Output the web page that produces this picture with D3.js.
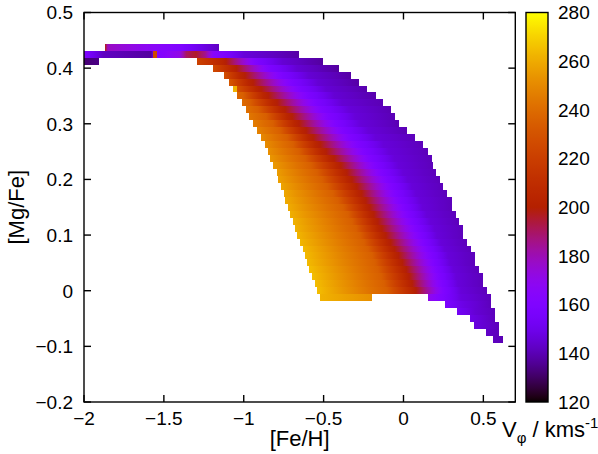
<!DOCTYPE html>
<html><head><meta charset="utf-8">
<script src="https://cdn.jsdelivr.net/npm/d3@7"></script>
<style>
html,body{margin:0;padding:0;background:#fff;}
text{font-family:"Liberation Sans",Arial,Helvetica,sans-serif;fill:#000;}
</style></head>
<body><svg id="c" width="598" height="454"></svg>
<script>
// ---------------- data ----------------
const xTicks = [-2, -1.5, -1, -0.5, 0, 0.5];
const yTicks = [-0.2, -0.1, 0, 0.1, 0.2, 0.3, 0.4, 0.5];
const cbTicks = [120, 140, 160, 180, 200, 220, 240, 260, 280];
const rowHalfHeight = 0.00625;   // half of the [Mg/Fe] bin
const cellHalfWidth = 0.0125;    // half of the [Fe/H] bin

// each row segment: [Mg/Fe] centre and list of [ [Fe/H], Vphi ] samples along the row
const segMgFe = [
  0.4375, 0.425, 0.4125, 0.4125, 0.4, 0.3875, 0.375, 0.3625, 0.35, 0.3375, 0.325,
  0.3125, 0.3, 0.2875, 0.275, 0.2625, 0.25, 0.2375, 0.225, 0.2125, 0.2, 0.1875,
  0.175, 0.1625, 0.15, 0.1375, 0.125, 0.1125, 0.1, 0.0875, 0.075, 0.0625, 0.05,
  0.0375, 0.025, 0.0125, 0, -0.0125, -0.0125, -0.025, -0.0375, -0.05, -0.0625, -0.075, -0.0875
];
const segStops = [
  [[-1.869,200],[-1.850,178],[-1.606,168],[-1.399,160],[-1.28,150],[-1.155,142]],
  [[-2.0,160],[-1.88,142],[-1.58,137],[-1.55,160],[-1.40,172],[-1.36,190],[-1.30,196],[-1.24,185],[-1.19,165],[-1.10,156],[-1.00,146],[-0.652,138]],
  [[-2.0,132],[-1.906,134]],
  [[-1.294,222],[-1.136,205],[-0.929,160],[-0.758,145],[-0.502,137]],
  [[-1.194,226],[-1.073,205],[-0.848,160],[-0.669,145],[-0.401,137]],
  [[-1.121,228],[-1.023,205],[-0.773,160],[-0.595,145],[-0.328,138]],
  [[-1.090,232],[-0.973,205],[-0.710,160],[-0.536,145],[-0.276,138]],
  [[-1.069,235],[-0.923,205],[-0.660,160],[-0.486,145],[-0.226,139]],
  [[-1.040,238],[-1.004,235],[-0.879,205],[-0.610,160],[-0.435,145],[-0.173,139]],
  [[-1.013,240],[-0.961,235],[-0.823,205],[-0.560,160],[-0.386,145],[-0.126,140]],
  [[-0.987,242],[-0.910,235],[-0.773,205],[-0.516,160],[-0.341,146],[-0.078,140]],
  [[-0.965,244],[-0.860,235],[-0.729,205],[-0.472,160],[-0.304,146],[-0.053,140]],
  [[-0.944,246],[-0.817,235],[-0.685,205],[-0.428,160],[-0.268,146],[-0.028,140]],
  [[-0.915,248],[-0.773,235],[-0.641,205],[-0.384,160],[-0.221,146],[0.024,140]],
  [[-0.892,250],[-0.729,235],[-0.597,205],[-0.340,160],[-0.175,146],[0.073,141]],
  [[-0.867,251],[-0.691,235],[-0.554,205],[-0.291,160],[-0.125,146],[0.125,141]],
  [[-0.846,252],[-0.654,235],[-0.516,205],[-0.253,160],[-0.091,146],[0.152,141]],
  [[-0.835,254],[-0.616,235],[-0.466,205],[-0.215,160],[-0.058,146],[0.177,141]],
  [[-0.815,255],[-0.579,235],[-0.422,205],[-0.178,160],[-0.033,146],[0.185,141]],
  [[-0.793,256],[-0.541,235],[-0.384,205],[-0.140,160],[-0.003,146],[0.202,141]],
  [[-0.783,257],[-0.510,235],[-0.353,205],[-0.109,160],[0.026,146],[0.229,141]],
  [[-0.766,258],[-0.478,235],[-0.322,205],[-0.078,160],[0.053,146],[0.250,141]],
  [[-0.748,259],[-0.441,235],[-0.291,205],[-0.053,160],[0.078,146],[0.275,141]],
  [[-0.741,260],[-0.410,235],[-0.265,205],[-0.028,160],[0.104,146],[0.302,141]],
  [[-0.721,260],[-0.378,235],[-0.240,205],[-0.003,160],[0.119,146],[0.302,141]],
  [[-0.710,261],[-0.347,235],[-0.215,205],[0.022,160],[0.144,146],[0.327,141]],
  [[-0.693,262],[-0.322,235],[-0.190,205],[0.048,160],[0.169,146],[0.350,141]],
  [[-0.679,262],[-0.297,235],[-0.165,205],[0.073,160],[0.194,146],[0.375,141]],
  [[-0.668,263],[-0.272,235],[-0.140,205],[0.098,160],[0.209,146],[0.375,141]],
  [[-0.647,263],[-0.247,235],[-0.109,205],[0.123,160],[0.234,146],[0.400,141]],
  [[-0.631,264],[-0.222,235],[-0.084,205],[0.148,160],[0.258,146],[0.423,141]],
  [[-0.616,264],[-0.197,235],[-0.059,205],[0.167,160],[0.279,146],[0.448,141]],
  [[-0.602,264],[-0.178,235],[-0.034,205],[0.185,160],[0.290,146],[0.448,141]],
  [[-0.589,265],[-0.159,235],[-0.009,205],[0.204,160],[0.312,146],[0.473,141]],
  [[-0.574,265],[-0.140,235],[0.010,205],[0.217,160],[0.329,146],[0.497,141]],
  [[-0.554,265],[-0.121,235],[0.029,205],[0.235,160],[0.340,146],[0.497,141]],
  [[-0.539,265],[-0.103,235],[0.054,205],[0.248,160],[0.359,146],[0.525,141]],
  [[-0.522,262],[-0.197,252]],
  [[0.156,170],[0.240,160],[0.360,147],[0.549,141]],
  [[0.260,158],[0.360,149],[0.549,141]],
  [[0.336,153],[0.450,145],[0.574,141]],
  [[0.414,149],[0.574,141]],
  [[0.439,147],[0.599,141]],
  [[0.514,143],[0.599,141]],
  [[0.561,142],[0.622,140]]
];
// isolated cells
const cellMgFe = [0.425, 0.3625];
const cellFeH  = [-1.555, -1.057];
const cellV    = [225, 262];

// ---------------- scales ----------------
const x = d3.scaleLinear().domain([-2, 0.7]).range([84, 515.3]);
const y = d3.scaleLinear().domain([-0.2, 0.5]).range([402, 12.5]);
const cb = d3.scaleLinear().domain([120, 280]).range([402, 12.5]);
const cbX0 = 526, cbX1 = 548;

// gnuplot default palette (rgbformulae 7,5,15)
function pal(v) {
  const t = Math.max(0, Math.min(1, (v - 120) / 160));
  const r = Math.sqrt(t), g = t * t * t, b = Math.max(0, Math.sin(2 * Math.PI * t));
  return d3.rgb(r * 255, g * 255, b * 255).formatHex();
}

const svg = d3.select("#c");
const defs = svg.append("defs");
defs.append("clipPath").attr("id", "plotclip").append("rect")
  .attr("x", x(-2)).attr("y", y(0.5)).attr("width", x(0.7) - x(-2)).attr("height", y(-0.2) - y(0.5));

const gHeat = svg.append("g").attr("clip-path", "url(#plotclip)").attr("shape-rendering", "crispEdges");

segStops.forEach((stops, i) => {
  const m = segMgFe[i];
  const x1 = Math.round(x(stops[0][0])), x2 = Math.round(x(stops[stops.length - 1][0]));
  const gid = "g" + i;
  const grad = defs.append("linearGradient").attr("id", gid)
    .attr("gradientUnits", "userSpaceOnUse")
    .attr("x1", x1).attr("x2", x2).attr("y1", 0).attr("y2", 0);
  for (let k = 0; k < stops.length; k++) {
    if (k < stops.length - 1) {
      const [fa, va] = stops[k], [fb, vb] = stops[k + 1];
      const n = 8;
      for (let s = 0; s < n; s++) {
        const f = fa + (fb - fa) * s / n, v = va + (vb - va) * s / n;
        const off = Math.max(0, Math.min(1, (x(f) - x1) / (x2 - x1)));
        grad.append("stop").attr("offset", off).attr("stop-color", pal(v));
      }
    } else {
      grad.append("stop").attr("offset", 1).attr("stop-color", pal(stops[k][1]));
    }
  }
  const yt = Math.round(y(m + rowHalfHeight)), yb = Math.round(y(m - rowHalfHeight));
  gHeat.append("rect")
    .attr("x", x1).attr("width", x2 - x1)
    .attr("y", yt).attr("height", yb - yt)
    .attr("fill", `url(#${gid})`);
});

cellMgFe.forEach((m, i) => {
  const yt = Math.round(y(m + rowHalfHeight)), yb = Math.round(y(m - rowHalfHeight));
  const xa = Math.round(x(cellFeH[i] - cellHalfWidth)), xb = Math.round(x(cellFeH[i] + cellHalfWidth));
  gHeat.append("rect")
    .attr("x", xa).attr("width", xb - xa)
    .attr("y", yt).attr("height", yb - yt)
    .attr("fill", pal(cellV[i]));
});

// ---------------- frame & ticks ----------------
const TL = 7;
const gAx = svg.append("g").attr("stroke", "#000").attr("stroke-width", 1.4).attr("fill", "none");
gAx.append("rect").attr("x", x(-2)).attr("y", y(0.5)).attr("width", x(0.7) - x(-2)).attr("height", y(-0.2) - y(0.5));
xTicks.forEach(t => {
  gAx.append("line").attr("x1", x(t)).attr("x2", x(t)).attr("y1", y(-0.2)).attr("y2", y(-0.2) - TL);
  gAx.append("line").attr("x1", x(t)).attr("x2", x(t)).attr("y1", y(0.5)).attr("y2", y(0.5) + TL);
});
yTicks.forEach(t => {
  gAx.append("line").attr("x1", x(-2)).attr("x2", x(-2) + TL).attr("y1", y(t)).attr("y2", y(t));
  gAx.append("line").attr("x1", x(0.7)).attr("x2", x(0.7) - TL).attr("y1", y(t)).attr("y2", y(t));
});

const FS = 19;
svg.append("g").selectAll("text").data(xTicks).join("text")
  .attr("x", d => x(d)).attr("y", 425).attr("text-anchor", "middle")
  .attr("font-size", FS).text(d => d3.format("")(d));
svg.append("g").selectAll("text").data(yTicks).join("text")
  .attr("x", 73).attr("y", d => y(d) + FS * 0.36).attr("text-anchor", "end")
  .attr("font-size", FS).text(d => d3.format("")(d));

svg.append("text").attr("x", x(-0.65)).attr("y", 446).attr("text-anchor", "middle")
  .attr("font-size", 22).text("[Fe/H]");
svg.append("text").attr("transform", `translate(24,${y(0.15)}) rotate(-90)`).attr("text-anchor", "middle")
  .attr("font-size", 22).text("[Mg/Fe]");

// ---------------- colour box ----------------
const cg = defs.append("linearGradient").attr("id", "cbgrad")
  .attr("gradientUnits", "userSpaceOnUse").attr("x1", 0).attr("x2", 0)
  .attr("y1", cb(120)).attr("y2", cb(280));
d3.range(0, 161).forEach(i => {
  cg.append("stop").attr("offset", i / 160).attr("stop-color", pal(120 + i));
});
svg.append("rect").attr("x", cbX0).attr("width", cbX1 - cbX0)
  .attr("y", cb(280)).attr("height", cb(120) - cb(280))
  .attr("fill", "url(#cbgrad)").attr("stroke", "#000").attr("stroke-width", 1.4);
svg.append("g").selectAll("text").data(cbTicks).join("text")
  .attr("x", 558).attr("y", d => cb(d) + FS * 0.36)
  .attr("font-size", FS).text(d => d);

const lab = svg.append("text").attr("x", 502).attr("y", 437).attr("font-size", 22);
lab.append("tspan").text("V");
lab.append("tspan").attr("font-size", 15).attr("dy", 6).text("\u03c6");
lab.append("tspan").attr("dy", -6).text(" / kms");
lab.append("tspan").attr("font-size", 15).attr("dy", -9).text("-1");
</script></body></html>
